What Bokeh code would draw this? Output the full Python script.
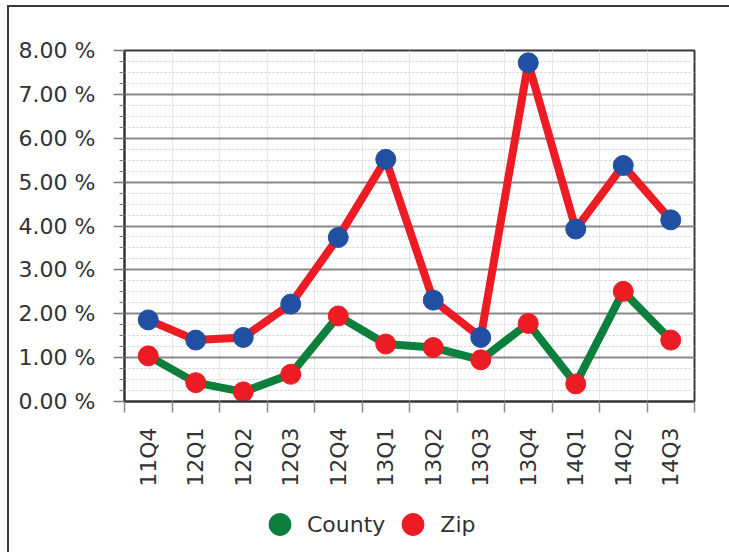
import math
from bokeh.plotting import figure
from bokeh.layouts import column
from bokeh.models import (ColumnDataSource, Range1d, FixedTicker, SingleIntervalTicker,
                          Legend, LegendItem)
from bokeh.embed import file_html
from bokeh.resources import INLINE

quarters = ["11Q4", "12Q1", "12Q2", "12Q3", "12Q4", "13Q1",
            "13Q2", "13Q3", "13Q4", "14Q1", "14Q2", "14Q3"]
county = [1.04, 0.43, 0.22, 0.62, 1.95, 1.31, 1.23, 0.95, 1.78, 0.40, 2.51, 1.40]
zip_rate = [1.86, 1.40, 1.46, 2.22, 3.74, 5.52, 2.31, 1.46, 7.72, 3.93, 5.38, 4.14]
y_ticks = [0, 1, 2, 3, 4, 5, 6, 7, 8]
y_tick_labels = ["0.00 %", "1.00 %", "2.00 %", "3.00 %", "4.00 %",
                 "5.00 %", "6.00 %", "7.00 %", "8.00 %"]
series_names = ["County", "Zip"]

RED = "#ed1c24"
BLUE = "#2150a3"
GREEN = "#0b7f3b"
FONT = "DejaVu Sans"
TXT = "#333333"
FS = "22px"

n = len(quarters)
idx = list(range(n))
src = ColumnDataSource(dict(x=idx, q=quarters, county=county, zip=zip_rate))

p = figure(width=720, height=488, output_backend="svg", toolbar_location=None,
           x_range=Range1d(-0.5, n - 0.5), y_range=Range1d(y_ticks[0], y_ticks[-1]),
           min_border_left=115, min_border_right=35, min_border_top=43,
           min_border_bottom=94)
p.outline_line_color = "#3a3a3a"
p.outline_line_width = 2
p.background_fill_color = "white"
p.border_fill_color = "white"

# x axis: labels at category centres, tick marks at boundaries
xa = p.xaxis[0]
xa.ticker = FixedTicker(ticks=idx, minor_ticks=[i - 0.5 for i in range(n + 1)])
xa.major_label_overrides = {i: q for i, q in zip(idx, quarters)}
xa.major_label_orientation = math.pi / 2
xa.major_tick_out = 0
xa.major_tick_in = 0
xa.minor_tick_out = 11
xa.minor_tick_in = 0
xa.minor_tick_line_color = "#8c8c8c"
xa.minor_tick_line_width = 1.5
xa.major_label_standoff = 15
xa.axis_line_color = "#333333"
xa.axis_line_width = 2
xa.major_label_text_font = FONT
xa.major_label_text_font_size = FS
xa.major_label_text_color = TXT

ya = p.yaxis[0]
ya.ticker = SingleIntervalTicker(interval=1, num_minor_ticks=4)
ya.major_label_overrides = {t: l for t, l in zip(y_ticks, y_tick_labels)}
ya.major_tick_out = 11
ya.major_tick_in = 0
ya.minor_tick_out = 5
ya.minor_tick_in = 0
ya.major_tick_line_color = "#777777"
ya.major_tick_line_width = 1.5
ya.minor_tick_line_color = "#777777"
ya.major_label_standoff = 18
ya.axis_line_color = "#333333"
ya.axis_line_width = 2
ya.major_label_text_font = FONT
ya.major_label_text_font_size = FS
ya.major_label_text_color = TXT

p.xgrid.ticker = FixedTicker(ticks=[i + 0.5 for i in range(n - 1)])
p.xgrid.grid_line_color = "#e6e6e6"
p.xgrid.grid_line_width = 1
p.ygrid.grid_line_color = "#888888"
p.ygrid.grid_line_width = 2
p.ygrid.minor_grid_line_color = "#cfcfcf"
p.ygrid.minor_grid_line_dash = "2 2"
p.ygrid.minor_grid_line_width = 1

# series
p.line("x", "zip", source=src, line_color=RED, line_width=8)
p.scatter("x", "zip", source=src, size=20, fill_color=BLUE, line_color=BLUE)
p.line("x", "county", source=src, line_color=GREEN, line_width=8)
p.scatter("x", "county", source=src, size=20, fill_color=RED, line_color=RED)

# legend strip below the chart (legend-only renderers sit outside the visible range)
p2 = figure(width=720, height=57, output_backend="svg", toolbar_location=None,
            x_range=Range1d(0, 1), y_range=Range1d(0, 1),
            x_axis_type=None, y_axis_type=None, min_border=0)
p2.outline_line_color = None
p2.background_fill_color = "white"
p2.border_fill_color = "white"
leg_c = p2.scatter([-10], [-10], size=20, fill_color=GREEN, line_color=GREEN)
leg_z = p2.scatter([-10], [-10], size=20, fill_color=RED, line_color=RED)
legend = Legend(items=[LegendItem(label=series_names[0], renderers=[leg_c]),
                       LegendItem(label=series_names[1], renderers=[leg_z])],
                location="left", orientation="horizontal",
                glyph_width=55, glyph_height=55, label_standoff=0, spacing=0,
                padding=0, margin=128, border_line_color=None,
                background_fill_alpha=0,
                label_text_font=FONT, label_text_font_size=FS,
                label_text_color=TXT)
p2.add_layout(legend, "center")

root = column(p, p2, spacing=0,
              styles={"margin-left": "7px", "margin-top": "5px",
                      "border-left": "2px solid #3a3a3a",
                      "border-top": "2px solid #3a3a3a"})

open("out.html", "w").write(file_html(root, INLINE))
